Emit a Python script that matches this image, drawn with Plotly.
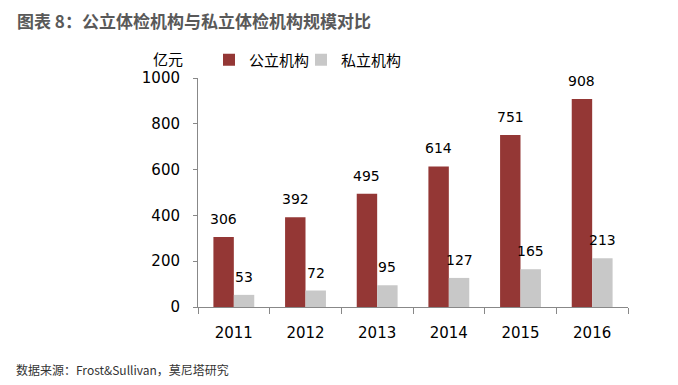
import plotly.graph_objects as go

years = ["2011", "2012", "2013", "2014", "2015", "2016"]
public_vals = [306, 392, 495, 614, 751, 908]
private_vals = [53, 72, 95, 127, 165, 213]
y_ticks = [0, 200, 400, 600, 800, 1000]

font_family = "Noto Sans CJK SC, Noto Sans, sans-serif"
num_font = "DejaVu Sans, Noto Sans CJK SC, sans-serif"

L, R, T, B = 190, 50, 70, 78
PW = 670 - L - R  # 430
PH = 377 - T - B  # 229
BARGAP = 0.43
half_bar = (PW / len(years)) * (1 - BARGAP) / 4  # offset of each bar centre

fig = go.Figure()
fig.add_trace(go.Bar(
    x=years, y=public_vals, name="公立机构", legend="legend",
    marker=dict(color="#943735", line=dict(width=0)),
))
fig.add_trace(go.Bar(
    x=years, y=private_vals, name="私立机构", legend="legend2",
    marker=dict(color="#C8C8C8", line=dict(width=0)),
))

annotations = [
    dict(text="<b>图表 8：公立体检机构与私立体检机构规模对比</b>", xref="paper", yref="paper",
         x=(7 - L) / PW, y=1 + 58/PH, xanchor="left", yanchor="middle", showarrow=False,
         font=dict(size=17, color="#595959", family=font_family)),
    dict(text="亿元", xref="paper", yref="paper", x=-13/PW, y=1 + 19/PH,
         xanchor="right", yanchor="middle", showarrow=False,
         font=dict(size=15, color="#000000")),
    dict(text="数据来源：Frost&Sullivan，莫尼塔研究", xref="paper", yref="paper",
         x=(6 - L) / PW, y=-63/PH, xanchor="left", yanchor="middle", showarrow=False,
         font=dict(size=12, color="#333333")),
]
# category axis: annotation x given as category index
for i, v in enumerate(public_vals):
    annotations.append(dict(text=str(v), x=i, y=v, xref="x", yref="y",
                            xshift=-half_bar, yshift=8, xanchor="center", yanchor="bottom",
                            showarrow=False, font=dict(size=14, color="#000000", family=num_font)))
for i, v in enumerate(private_vals):
    annotations.append(dict(text=str(v), x=i, y=v, xref="x", yref="y",
                            xshift=half_bar, yshift=8, xanchor="center", yanchor="bottom",
                            showarrow=False, font=dict(size=14, color="#000000", family=num_font)))

legend_common = dict(orientation="h", y=1 + 18/PH, xanchor="left", yanchor="middle",
                     font=dict(size=15, color="#000000"), itemwidth=30,
                     bgcolor="rgba(0,0,0,0)")

fig.update_layout(
    width=670, height=377,
    margin=dict(l=L, r=R, t=T, b=B, autoexpand=False),
    paper_bgcolor="white", plot_bgcolor="white",
    font=dict(family=font_family, size=14, color="#000000"),
    barmode="group", bargap=BARGAP, bargroupgap=0,
    showlegend=True,
    legend=dict(x=11/PW, **legend_common),
    legend2=dict(x=(11 + 92)/PW, **legend_common),
    annotations=annotations,
)
fig.update_xaxes(
    type="category", range=[-0.5, len(years) - 0.5],
    showline=True, linecolor="#888888", linewidth=1,
    ticks="outside", tickson="boundaries", ticklen=6, tickcolor="#888888",
    showgrid=False, ticklabelstandoff=12, tickfont=dict(size=15, family=num_font),
)
fig.update_yaxes(
    range=[0, 1000], tickvals=y_ticks, showline=True, linecolor="#888888", linewidth=1,
    ticks="outside", ticklen=4, tickcolor="#888888", showgrid=False, zeroline=False,
    tickfont=dict(size=15, family=num_font), ticklabelstandoff=10,
)

fig.write_html("out.html")
